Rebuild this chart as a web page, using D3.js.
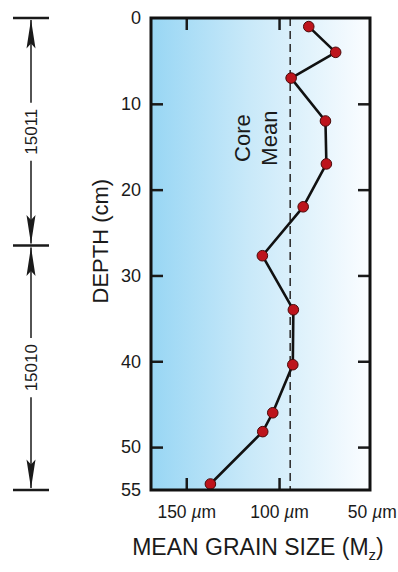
<!DOCTYPE html>
<html>
<head>
<meta charset="utf-8">
<script src="https://cdn.jsdelivr.net/npm/d3@7"></script>
<style>
  html, body { margin: 0; padding: 0; background: #fff; }
  svg { display: block; font-family: "Liberation Sans", Arial, Helvetica, sans-serif; }
</style>
</head>
<body>
<svg id="chart" width="398" height="572"></svg>
<script>
// Sample depths (cm) and mean grain size (µm) down the core
const depths = [1, 4, 7, 12, 17, 22, 27.7, 34, 40.4, 46, 48.2, 54.3];
const grainSizes = [84, 69.5, 93.5, 75, 74.5, 87, 109, 92.3, 92.6, 103.4, 108.8, 137];
const coreMean = 94;

// Axis ticks
const depthTicks = [0, 10, 20, 30, 40, 50, 55];
const depthInnerTicks = [10, 20, 30, 40, 50];
const sizeTicks = [150, 100, 50];
const sizeInnerTicks = [150, 100];

// Core sections (top, bottom depth) and their labels
const sectionBounds = [0, 26.5, 55];
const sectionLabels = ["15011", "15010"];

const svg = d3.select("#chart");
const ink = "#1a1a1a";

const box = { left: 151, right: 370, top: 18, bottom: 490 };
const x = d3.scaleLinear().domain([169, 51]).range([box.left, box.right]);
const y = d3.scaleLinear().domain([0, 55]).range([box.top, box.bottom]);

// Background gradient: coarse (blue) to fine (white)
const defs = svg.append("defs");
const grad = defs.append("linearGradient").attr("id", "bg")
  .attr("x1", "0%").attr("x2", "100%").attr("y1", "0%").attr("y2", "0%");
grad.append("stop").attr("offset", "0%").attr("stop-color", "#98d6f4");
grad.append("stop").attr("offset", "45%").attr("stop-color", "#c9e9f9");
grad.append("stop").attr("offset", "100%").attr("stop-color", "#fbfdff");

svg.append("rect")
  .attr("x", box.left).attr("y", box.top)
  .attr("width", box.right - box.left).attr("height", box.bottom - box.top)
  .attr("fill", "url(#bg)");

// Core mean dashed line
svg.append("line")
  .attr("x1", x(coreMean)).attr("x2", x(coreMean))
  .attr("y1", box.top).attr("y2", box.bottom)
  .attr("stroke", "#333").attr("stroke-width", 1.6)
  .attr("stroke-dasharray", "8,5");

// "Core Mean" label beside the dashed line
const meanLabel = svg.append("g")
  .attr("transform", `translate(${x(coreMean)},${y(14)}) rotate(-90)`)
  .attr("fill", ink).attr("font-size", 22).attr("text-anchor", "middle");
meanLabel.append("text").attr("x", 0).attr("y", -40).text("Core");
meanLabel.append("text").attr("x", 0).attr("y", -13).text("Mean");

// Inner tick marks on all four sides
const tickStyle = g => {
  g.select(".domain").remove();
  g.selectAll(".tick line").attr("stroke", ink).attr("stroke-width", 2.5);
};
svg.append("g").attr("transform", `translate(${box.left},0)`)
  .call(d3.axisRight(y).tickValues(depthInnerTicks).tickSize(12).tickFormat(""))
  .call(tickStyle);
svg.append("g").attr("transform", `translate(${box.right},0)`)
  .call(d3.axisLeft(y).tickValues(depthInnerTicks).tickSize(12).tickFormat(""))
  .call(tickStyle);
svg.append("g").attr("transform", `translate(0,${box.top})`)
  .call(d3.axisBottom(x).tickValues(sizeInnerTicks).tickSize(12).tickFormat(""))
  .call(tickStyle);
svg.append("g").attr("transform", `translate(0,${box.bottom})`)
  .call(d3.axisTop(x).tickValues(sizeInnerTicks).tickSize(12).tickFormat(""))
  .call(tickStyle);

// Grain-size profile
const line = d3.line().x((d, i) => x(grainSizes[i])).y(d => y(d));
svg.append("path")
  .datum(depths)
  .attr("d", line)
  .attr("fill", "none").attr("stroke", "#111").attr("stroke-width", 2.6)
  .attr("stroke-linejoin", "round");

svg.append("g").selectAll("circle")
  .data(depths)
  .join("circle")
  .attr("cx", (d, i) => x(grainSizes[i]))
  .attr("cy", d => y(d))
  .attr("r", 5.3)
  .attr("fill", "#bd141c")
  .attr("stroke", "#4a0a0a").attr("stroke-width", 1);

// Frame
svg.append("rect")
  .attr("x", box.left).attr("y", box.top)
  .attr("width", box.right - box.left).attr("height", box.bottom - box.top)
  .attr("fill", "none").attr("stroke", "#111").attr("stroke-width", 3);

// Depth tick labels
svg.append("g").attr("transform", `translate(${box.left},0)`)
  .call(d3.axisLeft(y).tickValues(depthTicks).tickSize(0).tickPadding(10))
  .call(g => g.select(".domain").remove())
  .call(g => g.selectAll("text")
    .attr("font-size", 18).attr("fill", ink)
    .attr("font-family", "Liberation Sans, Arial, sans-serif"));

// Grain-size tick labels with an italic µ
svg.append("g").attr("transform", `translate(0,${box.bottom})`)
  .call(d3.axisBottom(x).tickValues(sizeTicks).tickSize(0).tickPadding(16).tickFormat(""))
  .call(g => g.select(".domain").remove())
  .call(g => g.selectAll("text").each(function(d) {
    const t = d3.select(this)
      .attr("font-size", 17.5).attr("fill", ink)
      .attr("font-family", "Liberation Sans, Arial, sans-serif");
    t.append("tspan").text(d + " ");
    t.append("tspan").attr("font-style", "italic").text("µ");
    t.append("tspan").text("m");
  }));

// Axis titles
svg.append("text")
  .attr("transform", `translate(108,${y(26)}) rotate(-90)`)
  .attr("text-anchor", "middle").attr("font-size", 22).attr("fill", ink)
  .text("DEPTH (cm)");

const xTitle = svg.append("text")
  .attr("x", 258).attr("y", 555)
  .attr("text-anchor", "middle").attr("font-size", 23).attr("fill", ink);
xTitle.append("tspan").text("MEAN GRAIN SIZE (M");
xTitle.append("tspan").attr("font-size", 15).attr("dy", 5).text("z");
xTitle.append("tspan").attr("dy", -5).text(")");

// Core section brackets on the left
const ax = 31, barHalf = 18, headLen = 29, headHalf = 4.5;
const secG = svg.append("g").attr("stroke", ink).attr("fill", ink);

sectionBounds.forEach(b => {
  secG.append("line")
    .attr("x1", ax - barHalf).attr("x2", ax + barHalf)
    .attr("y1", y(b)).attr("y2", y(b))
    .attr("stroke-width", 2.5);
});

function arrowHead(tipY, dir) {
  const base = tipY + dir * headLen;
  const notch = tipY + dir * (headLen - 5);
  return `M${ax},${tipY} L${ax - headHalf},${base} L${ax},${notch} L${ax + headHalf},${base} Z`;
}

sectionLabels.forEach((label, i) => {
  const top = y(sectionBounds[i]);
  const bot = y(sectionBounds[i + 1]);
  const mid = (top + bot) / 2;
  const txt = secG.append("text")
    .attr("transform", `translate(${ax + 6},${mid}) rotate(-90)`)
    .attr("text-anchor", "middle").attr("stroke", "none")
    .attr("font-size", 17).text(label);
  const half = txt.node().getComputedTextLength() / 2 + 6;
  secG.append("line").attr("x1", ax).attr("x2", ax)
    .attr("y1", top + 2).attr("y2", mid - half).attr("stroke-width", 1.5);
  secG.append("line").attr("x1", ax).attr("x2", ax)
    .attr("y1", mid + half).attr("y2", bot - 2).attr("stroke-width", 1.5);
  secG.append("path").attr("d", arrowHead(top + 1.5, 1)).attr("stroke", "none");
  secG.append("path").attr("d", arrowHead(bot - 1.5, -1)).attr("stroke", "none");
});
</script>
</body>
</html>
